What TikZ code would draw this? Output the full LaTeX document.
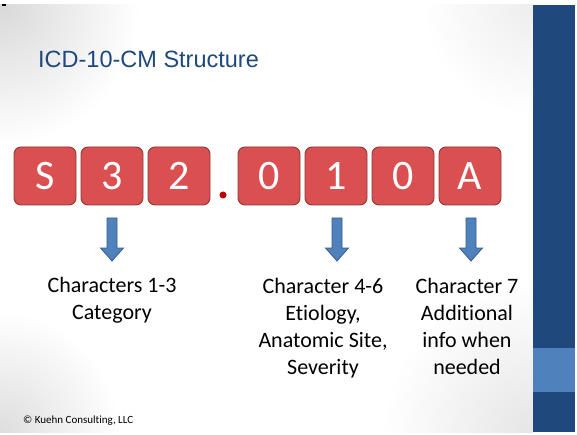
\documentclass[tikz,border=0pt]{standalone}
\usepackage{fontspec}
\setmainfont[Ligatures=NoCommon]{Carlito}
\newfontfamily\titlefont{Liberation Sans}
\definecolor{slideblue}{HTML}{1F497D}
\definecolor{barblue}{HTML}{1F497D}
\definecolor{barlight}{HTML}{4F81BD}
\definecolor{boxred}{HTML}{DA5050}
\definecolor{boxedge}{HTML}{8C3836}
\definecolor{dotred}{HTML}{C00000}
\definecolor{arrowfill}{HTML}{4F81BD}
\definecolor{arrowedge}{HTML}{385D8A}
\begin{document}
\begin{tikzpicture}[x=1pt,y=-1pt,
  charbox/.style={draw=boxedge, line width=0.9pt, fill=boxred, rounded corners=7pt,
    minimum width=62pt, minimum height=58pt, inner sep=0pt, text=white,
    font=\fontsize{42}{42}\selectfont},
  downarrow/.style={fill=arrowfill, draw=arrowedge, line width=0.8pt, line join=miter},
  caption/.style={align=center, anchor=north, font=\fontsize{22}{27}\selectfont, text=black}]
  \useasboundingbox (0,0) rectangle (577,435);
  \fill[white] (0,0) rectangle (577,435);
  % soft background shading on the slide
  \begin{scope}
    \clip (0,5) rectangle (533,432);
    \shade[inner color=black!15, outer color=white] (0,5) circle[radius=140];
    \shade[inner color=black!13, outer color=white] (0,432) circle[radius=120];
    \shade[inner color=black!10, outer color=white] (533,432) circle[radius=150];
    \shade[inner color=black!7, outer color=white] (533,5) circle[radius=110];
  \end{scope}
  % side bar
  \fill[barblue] (533,5) rectangle (575,432);
  \fill[barlight] (533,348) rectangle (575,392);
  \fill[black] (2,4) rectangle (6,6);
  % title
  \node[anchor=base west, inner sep=0pt, text=slideblue,
    font=\titlefont\fontsize{23.5}{23.5}\selectfont] (title) at (38,68) {ICD-10-CM Structure};
  % code characters
  \node[charbox] (c1) at (45,176) {S};
  \node[charbox] (c2) at (112,176) {3};
  \node[charbox] (c3) at (179,176) {2};
  \node[circle, fill=dotred, inner sep=0pt, minimum size=7pt] (dot) at (223,195) {};
  \node[charbox] (c4) at (269,176) {0};
  \node[charbox] (c5) at (336,176) {1};
  \node[charbox] (c6) at (403,176) {0};
  \node[charbox] (c7) at (470,176) {A};
  % block arrows below the boxes
  \foreach \n/\x in {a1/112, a2/337, a3/471}{
    \draw[downarrow] (\x-5,218) -- (\x+5,218) -- (\x+5,248) -- (\x+11.5,248)
      -- (\x,261) -- (\x-11.5,248) -- (\x-5,248) -- cycle;
    \coordinate (\n) at (\x,261);
  }
  % captions
  \node[caption] (t1) at (112,274) {Characters 1-3\\Category};
  \node[caption] (t2) at (323,275) {Character 4-6\\Etiology,\\Anatomic Site,\\Severity};
  \node[caption] (t3) at (467,275) {Character 7\\Additional\\info when\\needed};
  % footer
  \node[anchor=base west, inner sep=0pt, font=\fontsize{11}{11}\selectfont] (foot)
    at (23,423) {© Kuehn Consulting, LLC};
\end{tikzpicture}
\end{document}
